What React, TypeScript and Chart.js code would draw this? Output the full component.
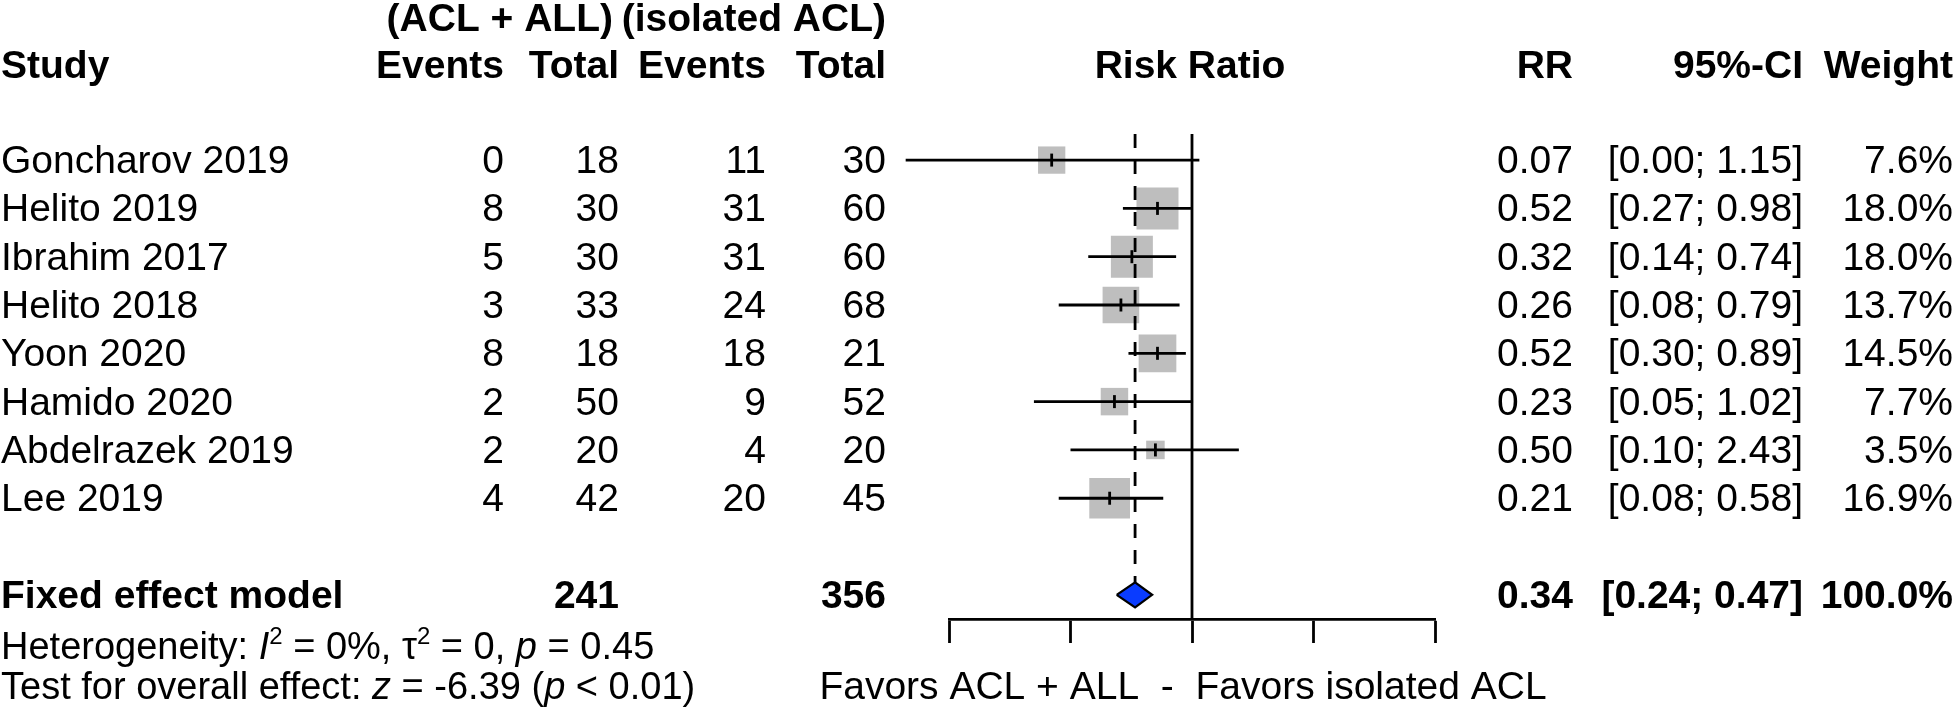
import React, { useEffect, useRef } from 'react';
import { Chart, registerables } from 'chart.js';

Chart.register(...registerables);

// ---------------- data ----------------
const studies = ['Goncharov 2019', 'Helito 2019', 'Ibrahim 2017', 'Helito 2018', 'Yoon 2020', 'Hamido 2020', 'Abdelrazek 2019', 'Lee 2019'];
const eventsExp = [0, 8, 5, 3, 8, 2, 2, 4];
const totalExp = [18, 30, 30, 33, 18, 50, 20, 42];
const eventsCtl = [11, 31, 31, 24, 18, 9, 4, 20];
const totalCtl = [30, 60, 60, 68, 21, 52, 20, 45];
const riskRatio = [0.07, 0.52, 0.32, 0.26, 0.52, 0.23, 0.5, 0.21];
const ciLower = [0.0044, 0.27, 0.14, 0.08, 0.3, 0.05, 0.1, 0.08];
const ciUpper = [1.15, 0.98, 0.74, 0.79, 0.89, 1.02, 2.43, 0.58];
const weights = [7.6, 18.0, 18.0, 13.7, 14.5, 7.7, 3.5, 16.9];

const pooledLabel = 'Fixed effect model';
const pooledTotals = [241, 356];
const pooledRR = [0.34];
const pooledCI = [0.24, 0.47];
const pooledWeight = [100.0];

const axisTicks = [0.01, 0.1, 1, 10, 100];
const groupLabels = ['(ACL + ALL)', '(isolated ACL)'];
const columnHeaders = ['Study', 'Events', 'Total', 'Events', 'Total', 'Risk Ratio', 'RR', '95%-CI', 'Weight'];
const axisTitle = 'Favors ACL + ALL  -  Favors isolated ACL';

// ---------------- layout / style ----------------
const W = 1958;
const H = 712;
const FONT = "'Liberation Sans', Arial, Helvetica, sans-serif";
const FS = 39;
const FS_STAT = 38;
const ROW_TOP = -0.54; // y-scale minimum (top of reference line)
const AXIS_ROW = 9.5; // y-scale maximum (x-axis position)
const POOLED_ROW = 9;
const DIAMOND_HALF = 0.26;
const SQUARE_K = 9.9; // square side (px) per sqrt(weight)
const COL = { study: 1, evE: 504, totE: 619, evC: 766, totC: 886, rr: 1573, ci: 1803, w: 1953, risk: 1190 };
const BASE = 13; // baseline offset below row centre

const fmt2 = (v: number) => v.toFixed(2);
const ciText = (lo: number, hi: number) => `[${fmt2(lo)}; ${fmt2(hi)}]`;

const textPlugin = {
  id: 'forestText',
  afterDraw(chart: any) {
    const ctx: CanvasRenderingContext2D = chart.ctx;
    const ys = chart.scales.y;
    const xs = chart.scales.x;
    ctx.save();
    ctx.fillStyle = '#000';
    ctx.textBaseline = 'alphabetic';
    const put = (t: string, x: number, y: number, align: CanvasTextAlign, bold = false, italic = false, size = FS) => {
      ctx.font = `${italic ? 'italic ' : ''}${bold ? 'bold ' : ''}${size}px ${FONT}`;
      ctx.textAlign = align;
      ctx.fillText(t, x, y);
    };
    // headers
    const h1 = 31;
    const h2 = 78;
    put(groupLabels[0], COL.totE - 6, h1, 'right', true);
    put(groupLabels[1], COL.totC, h1, 'right', true);
    put(columnHeaders[0], COL.study, h2, 'left', true);
    put(columnHeaders[1], COL.evE, h2, 'right', true);
    put(columnHeaders[2], COL.totE, h2, 'right', true);
    put(columnHeaders[3], COL.evC, h2, 'right', true);
    put(columnHeaders[4], COL.totC, h2, 'right', true);
    put(columnHeaders[5], COL.risk, h2, 'center', true);
    put(columnHeaders[6], COL.rr, h2, 'right', true);
    put(columnHeaders[7], COL.ci, h2, 'right', true);
    put(columnHeaders[8], COL.w, h2, 'right', true);

    studies.forEach((s, i) => {
      const y = ys.getPixelForValue(i) + BASE;
      put(s, COL.study, y, 'left');
      put(String(eventsExp[i]), COL.evE, y, 'right');
      put(String(totalExp[i]), COL.totE, y, 'right');
      put(String(eventsCtl[i]), COL.evC, y, 'right');
      put(String(totalCtl[i]), COL.totC, y, 'right');
      put(fmt2(riskRatio[i]), COL.rr, y, 'right');
      put(ciText(ciLower[i], ciUpper[i]), COL.ci, y, 'right');
      put(`${weights[i].toFixed(1)}%`, COL.w, y, 'right');
    });

    const yp = ys.getPixelForValue(POOLED_ROW) + BASE;
    put(pooledLabel, COL.study, yp, 'left', true);
    put(String(pooledTotals[0]), COL.totE, yp, 'right', true);
    put(String(pooledTotals[1]), COL.totC, yp, 'right', true);
    put(fmt2(pooledRR[0]), COL.rr, yp, 'right', true);
    put(ciText(pooledCI[0], pooledCI[1]), COL.ci, yp, 'right', true);
    put(`${pooledWeight[0].toFixed(1)}%`, COL.w, yp, 'right', true);

    // axis label (drawn here so it is not squeezed to the axis width)
    put(axisTitle, xs.getPixelForValue(1) - 9, 699, 'center');

    // statistics lines with mixed styles
    const run = (segs: Array<[string, string]>, x0: number, y: number) => {
      let x = x0;
      ctx.textAlign = 'left';
      for (const [t, st] of segs) {
        const sup = st === 'sup';
        const size = sup ? Math.round(FS_STAT * 0.64) : FS_STAT;
        ctx.font = `${st === 'it' ? 'italic ' : ''}${size}px ${FONT}`;
        ctx.fillText(t, x, sup ? y - 15 : y);
        x += ctx.measureText(t).width;
      }
    };
    run([
      ['Heterogeneity: ', 'n'], ['I', 'it'], ['2', 'sup'], [' = 0%, \u03C4', 'n'], ['2', 'sup'],
      [' = 0, ', 'n'], ['p', 'it'], [' = 0.45', 'n'],
    ], COL.study, 659);
    run([
      ['Test for overall effect: ', 'n'], ['z', 'it'], [' = -6.39 (', 'n'], ['p', 'it'], [' < 0.01)', 'n'],
    ], COL.study, 699);
    ctx.restore();
  },
};

export default function App() {
  const ref = useRef<HTMLCanvasElement | null>(null);
  useEffect(() => {
    if (!ref.current) return;
    const ciSets = studies.map((s, i) => ({
      type: 'line' as const,
      label: `ci-${s}`,
      data: [{ x: ciLower[i], y: i }, { x: ciUpper[i], y: i }],
      borderColor: '#000',
      borderWidth: 2.8,
      pointRadius: 0,
      clip: false as any,
      order: 2,
    }));
    const chart = new Chart(ref.current, {
      type: 'scatter',
      data: {
        datasets: [
          {
            type: 'scatter',
            label: 'weights',
            data: riskRatio.map((v, i) => ({ x: v, y: i })),
            pointStyle: 'rect',
            pointRadius: weights.map((w) => (SQUARE_K * Math.sqrt(w)) / Math.SQRT2),
            pointBackgroundColor: '#bebebe',
            pointBorderWidth: 0,
            clip: false as any,
            order: 5,
          } as any,
          {
            type: 'line',
            label: 'no effect',
            data: [{ x: 1, y: ROW_TOP }, { x: 1, y: AXIS_ROW }],
            borderColor: '#000',
            borderWidth: 2.8,
            pointRadius: 0,
            order: 3,
          },
          {
            type: 'line',
            label: 'pooled line',
            data: [{ x: pooledRR[0], y: ROW_TOP }, { x: pooledRR[0], y: POOLED_ROW - DIAMOND_HALF }],
            borderColor: '#000',
            borderWidth: 2.8,
            borderDash: [14, 12],
            pointRadius: 0,
            order: 4,
          },
          ...ciSets,
          {
            type: 'scatter',
            label: 'estimates',
            data: riskRatio.map((v, i) => ({ x: v, y: i })),
            pointStyle: 'line',
            rotation: 90,
            pointRadius: 6.5,
            pointBorderColor: '#000',
            pointBorderWidth: 2.8,
            clip: false as any,
            order: 1,
          } as any,
          {
            type: 'line',
            label: 'diamond',
            data: [
              { x: pooledCI[0], y: POOLED_ROW },
              { x: pooledRR[0], y: POOLED_ROW - DIAMOND_HALF },
              { x: pooledCI[1], y: POOLED_ROW },
              { x: pooledRR[0], y: POOLED_ROW + DIAMOND_HALF },
              { x: pooledCI[0], y: POOLED_ROW },
            ],
            borderColor: '#000',
            borderWidth: 2.2,
            backgroundColor: '#0a3cff',
            fill: 'shape',
            pointRadius: 0,
            tension: 0,
            order: 0,
          } as any,
        ],
      },
      options: {
        responsive: false,
        animation: false,
        devicePixelRatio: 1,
        layout: { padding: { left: 949, right: W - 1435, top: 134, bottom: 69 } },
        plugins: { legend: { display: false }, tooltip: { enabled: false } },
        scales: {
          x: {
            type: 'logarithmic',
            min: axisTicks[0],
            max: axisTicks[axisTicks.length - 1],
            position: 'bottom',
            afterBuildTicks: (scale: any) => {
              scale.ticks = axisTicks.map((v) => ({ value: v }));
            },
            grid: {
              drawOnChartArea: false,
              drawTicks: true,
              tickLength: 24,
              tickWidth: 2.8,
              tickColor: '#000',
              color: '#000',
            },
            border: { display: true, color: '#000', width: 2.8 },
            ticks: { display: false },
            title: { display: false },
          },
          y: {
            type: 'linear',
            reverse: true,
            min: ROW_TOP,
            max: AXIS_ROW,
            display: false,
          },
        },
      } as any,
      plugins: [textPlugin],
    });
    return () => chart.destroy();
  }, []);
  return (
    <div style={{ position: 'fixed', left: 0, top: 0, width: W, height: H, background: '#fff' }}>
      <canvas ref={ref} width={W} height={H} style={{ display: 'block', width: W, height: H }} />
    </div>
  );
}
